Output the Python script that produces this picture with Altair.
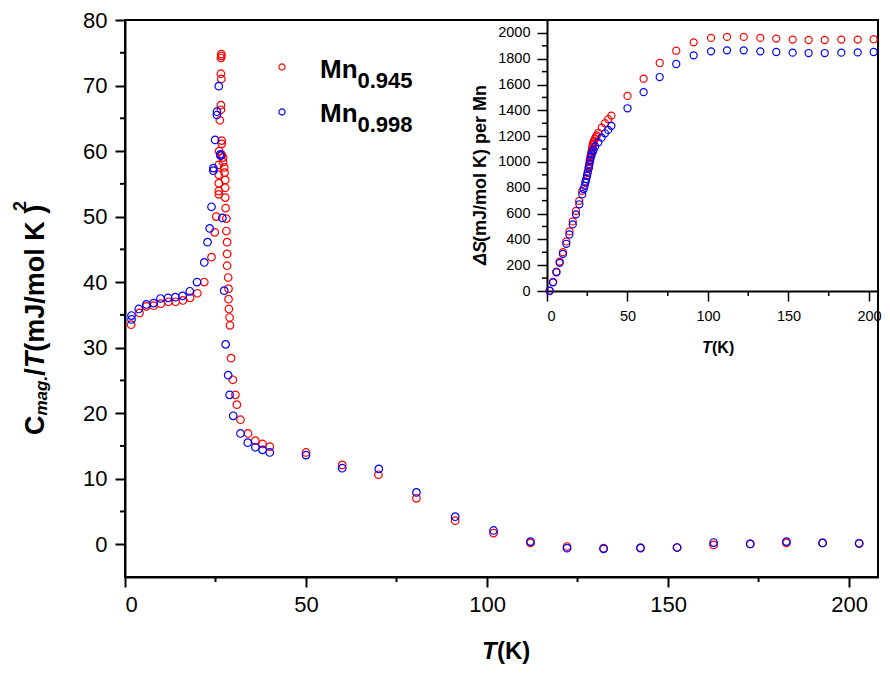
import altair as alt
import pandas as pd

# ---------------- data ----------------
series_names = ["Mn0.945", "Mn0.998"]
series_colors = ["#ff0000", "#0000ff"]

main_T_945 = [1.7, 4.0, 5.9, 7.9, 9.9, 12.0, 14.0, 16.0, 18.0, 20.0, 21.9, 23.9, 24.8, 25.2,
              25.9, 25.9, 25.9, 25.9, 25.9, 26.0, 26.2, 26.5, 26.5, 26.5, 26.6, 26.5, 26.6, 26.6,
              26.7, 26.7, 26.8, 27.1, 27.1, 27.4, 27.5, 27.7, 27.7, 27.7, 27.8, 28.0, 28.0, 28.2,
              28.2, 28.2, 28.5, 28.6, 28.6, 28.7, 28.9, 29.0, 29.3, 29.8, 30.5, 30.9, 31.9, 34.0,
              36.0, 38.0, 40.0, 50.0, 60.0, 70.0, 80.5, 91.2, 101.8, 112.0, 122.1, 132.2, 142.4,
              152.5, 162.6, 172.7, 182.7, 192.7, 202.8]
main_C_945 = [33.5, 35.3, 36.3, 36.4, 36.7, 37.0, 37.0, 37.2, 37.6, 38.3, 40.0, 43.8, 47.6, 50.0,
              53.4, 53.9, 55.1, 56.4, 57.9, 60.0, 64.7, 67.0, 66.3, 71.8, 71.0, 74.2, 74.5, 74.8,
              61.6, 61.1, 59.4, 59.0, 58.3, 57.5, 56.7, 55.6, 54.4, 52.9, 51.3, 49.7, 47.8, 46.1,
              44.3, 42.5, 40.7, 39.0, 37.4, 35.9, 34.6, 33.4, 28.4, 25.1, 22.8, 21.3, 19.0, 16.9,
              15.8, 15.3, 14.9, 14.0, 12.1, 10.6, 7.0, 3.6, 1.7, 0.2, -0.35, -0.6, -0.5,
              -0.5, -0.1, 0.05, 0.2, 0.2, 0.1]

main_T_998 = [1.8, 1.8, 3.8, 5.9, 7.9, 9.8, 11.9, 13.9, 15.9, 17.9, 19.9, 21.9, 22.8, 23.4, 23.9,
              24.4, 24.4, 24.9, 25.4, 25.4, 25.9, 26.3, 26.4, 26.9, 27.4, 27.8, 28.5, 28.9, 29.9,
              31.9, 33.9, 36.0, 38.0, 40.0, 50.0, 60.0, 70.1, 80.5, 91.2, 101.8, 112.0, 122.1,
              132.2, 142.4, 152.5, 162.6, 172.7, 182.7, 192.7, 202.8]
main_C_998 = [34.9, 34.3, 35.9, 36.6, 36.8, 37.5, 37.6, 37.7, 37.9, 38.6, 40.0, 43.0, 46.1, 48.2, 51.5,
              57.4, 57.0, 61.7, 66.0, 65.5, 69.9, 59.5, 59.3, 49.8, 38.7, 30.5, 25.8, 22.8, 19.6,
              16.9, 15.5, 14.8, 14.4, 14.0, 13.6, 11.6, 11.5, 7.9, 4.2, 2.1, 0.4, -0.6,
              -0.7, -0.6, -0.5, 0.26, 0.05, 0.4, 0.2, 0.15]

inset_T_945 = [1.7, 3.8, 5.9, 7.9, 9.9, 12.0, 14.0, 16.0, 18.0, 20.0, 21.9, 23.9, 24.8, 25.2, 25.9,
               26.0, 26.2, 26.5, 26.6, 26.8, 27.1, 27.4, 27.7, 28.0, 28.2, 28.5, 28.6, 28.9, 29.3,
               29.8, 30.5, 30.9, 31.9, 34.0, 36.0, 38.0, 40.0, 50.0, 60.0, 70.0, 80.3, 91.1,
               101.9, 111.8, 122.2, 132.5, 142.4, 152.6, 162.5, 172.5, 182.8, 193.0, 202.9]
inset_S_945 = [0, 70, 150, 228, 301, 384, 462, 539, 620, 698, 776, 850, 893, 915, 950,
               960, 975, 1000, 1015, 1030, 1048, 1066, 1083, 1105, 1118, 1135, 1142, 1155, 1165,
               1180, 1195, 1205, 1225, 1266, 1300, 1331, 1359, 1512, 1645, 1767, 1862, 1927,
               1961, 1969, 1969, 1961, 1956, 1948, 1945, 1945, 1948, 1948, 1951]

inset_T_998 = [1.7, 3.7, 5.8, 7.9, 9.9, 12.0, 13.9, 16.0, 18.0, 20.1, 21.9, 22.8, 23.4, 23.9, 24.4,
               24.9, 25.4, 25.9, 26.3, 26.9, 27.4, 27.8, 28.5, 28.9, 29.9, 31.9, 33.9, 36.0, 38.0,
               40.0, 50.0, 60.0, 70.0, 80.3, 91.1, 101.9, 111.8, 122.2, 132.5, 142.4, 152.6,
               162.5, 172.5, 182.8, 193.0, 202.9]
inset_S_998 = [2, 67, 145, 218, 288, 366, 438, 516, 594, 672, 750, 790, 815, 840, 868,
               895, 925, 955, 985, 1015, 1040, 1060, 1080, 1095, 1120, 1152, 1188, 1222, 1248,
               1280, 1416, 1541, 1658, 1759, 1826, 1857, 1865, 1865, 1857, 1852, 1847,
               1844, 1844, 1847, 1849, 1852]

main_x_major = [0, 50, 100, 150, 200]
main_x_minor = [25, 75, 125, 175]
main_y_major = [0, 10, 20, 30, 40, 50, 60, 70, 80]
main_y_minor = [5, 15, 25, 35, 45, 55, 65, 75]
inset_x_major = [0, 50, 100, 150, 200]
inset_x_minor = [25, 75, 125, 175]
inset_y_major = [0, 200, 400, 600, 800, 1000, 1200, 1400, 1600, 1800, 2000]
inset_y_minor = [100, 300, 500, 700, 900, 1100, 1300, 1500, 1700, 1900]

# ---------------- tables ----------------
main_df = pd.concat([
    pd.DataFrame({"T": main_T_945, "C": main_C_945, "s": series_names[0]}),
    pd.DataFrame({"T": main_T_998, "C": main_C_998, "s": series_names[1]}),
], ignore_index=True)
inset_df = pd.concat([
    pd.DataFrame({"T": inset_T_945, "S": inset_S_945, "s": series_names[0]}),
    pd.DataFrame({"T": inset_T_998, "S": inset_S_998, "s": series_names[1]}),
], ignore_index=True)

FONT = "Liberation Sans"
PAD_L = 117
W, H = 753, 557
IX0, IX1 = 422, 753     # inset x range (px inside plot)
IY0, IY1 = 271, 0       # inset y range
TX = 3                  # keep the outer y title at its place

color = alt.Color("s:N", scale=alt.Scale(domain=series_names, range=series_colors), legend=None)

mx_scale = alt.Scale(domain=[0, 208.0], nice=False, zero=False)
my_scale = alt.Scale(domain=[-5, 80], nice=False, zero=False)
ix_scale = alt.Scale(domain=[0, 205.6], range=[IX0, IX1], nice=False, zero=False)
iy_scale = alt.Scale(domain=[0, 2100], range=[IY0, IY1], nice=False, zero=False)


def ax(values, fs, pad, tw, **kw):
    return alt.Axis(values=values, ticks=True, tickSize=10, tickWidth=tw, domainWidth=2,
                    labelFontSize=fs, labelPadding=pad, title=None, grid=False, labelFont=FONT,
                    labelColor="black", domainColor="black", tickColor="black", format="d", **kw)


mx_axis = ax(main_x_major, 22, 7, 2, orient="bottom")
my_axis = ax(main_y_major, 22, 8, 2, orient="left")
ix_axis = ax(inset_x_major, 14.5, 8, 1.5, orient="bottom", offset=IY0 - H)
iy_axis = ax(inset_y_major, 14.5, 7, 1.5, orient="left", offset=-IX0)

main_pts = alt.Chart(main_df).mark_point(shape="circle", filled=False, size=57, strokeWidth=1.2, opacity=1).encode(
    x=alt.X("T:Q", scale=mx_scale, axis=mx_axis),
    y=alt.Y("C:Q", scale=my_scale, axis=my_axis),
    color=color,
)
main_xminor = alt.Chart(pd.DataFrame({"v": main_x_minor})).mark_rule(color="black", strokeWidth=2).encode(
    x=alt.X("v:Q", scale=mx_scale, axis=mx_axis), y=alt.value(H), y2=alt.value(H + 5))
main_yminor = alt.Chart(pd.DataFrame({"v": main_y_minor})).mark_rule(color="black", strokeWidth=2).encode(
    y=alt.Y("v:Q", scale=my_scale, axis=my_axis), x=alt.value(0), x2=alt.value(-5))
main_layer = alt.layer(main_pts, main_xminor, main_yminor)

inset_pts = alt.Chart(inset_df).mark_point(shape="circle", filled=False, size=50, strokeWidth=1.2, opacity=1).encode(
    x=alt.X("T:Q", scale=ix_scale, axis=ix_axis),
    y=alt.Y("S:Q", scale=iy_scale, axis=iy_axis),
    color=color,
)
inset_xminor = alt.Chart(pd.DataFrame({"v": inset_x_minor})).mark_rule(color="black", strokeWidth=1.5).encode(
    x=alt.X("v:Q", scale=ix_scale, axis=ix_axis), y=alt.value(IY0), y2=alt.value(IY0 + 5))
inset_yminor = alt.Chart(pd.DataFrame({"v": inset_y_minor})).mark_rule(color="black", strokeWidth=1.5).encode(
    y=alt.Y("v:Q", scale=iy_scale, axis=iy_axis), x=alt.value(IX0), x2=alt.value(IX0 - 5))
inset_layer = alt.layer(inset_pts, inset_xminor, inset_yminor)

one = alt.Data(values=[{}])


def txt(text, x, y, size, style="normal", weight="bold", angle=0):
    return alt.Chart(one).mark_text(
        text=text, font=FONT, fontSize=size, fontWeight=weight, fontStyle=style,
        angle=angle, align="left", baseline="alphabetic", color="black"
    ).encode(x=alt.value(x), y=alt.value(y))


def dot(x, y, c):
    return alt.Chart(one).mark_point(shape="circle", filled=False, size=38, strokeWidth=1.2,
                                     color=c, opacity=1).encode(x=alt.value(x), y=alt.value(y))


texts = [
    # main y title (rotated, reads upward)
    txt("C", -84 + TX, 415, 27, angle=270),
    txt("mag.", -81 + TX, 395.5, 17, style="italic", angle=270),
    txt("/", -84 + TX, 355.8, 27, angle=270),
    txt("T", -84 + TX, 348.3, 27, style="italic", angle=270),
    txt(" (mJ/mol K", -84 + TX, 331.8, 27, angle=270),
    txt(")", -84 + TX, 193.8, 27, angle=270),
    txt("2", -102 + TX, 191, 18, angle=270),
    # main x title
    txt("T", 357, 639, 24, style="italic"),
    txt("(K)", 372, 639, 24),
    # legend
    dot(157, 47, series_colors[0]),
    dot(157, 92, series_colors[1]),
    txt("Mn", 195, 57.5, 26),
    txt("0.945", 232.5, 67.5, 22),
    txt("Mn", 195, 102, 26),
    txt("0.998", 232.5, 112, 22),
    # inset titles
    txt("T", 577, 333, 16, style="italic"),
    txt("(K)", 587, 333, 16),
    txt("ΔS", 361, 245, 18, style="italic", angle=270),
    txt("(mJ/mol K) per Mn", 361, 245 - 23, 18, angle=270),
]

chart = alt.layer(main_layer, inset_layer, *texts).resolve_scale(
    x="independent", y="independent"
).properties(
    width=W, height=H,
    autosize=alt.AutoSizeParams(type="none"),
    padding={"left": PAD_L, "top": 12, "right": 874 - PAD_L - W, "bottom": 88},
    background="white",
).configure_view(stroke="black", strokeWidth=2)

chart.save("out.html", embed_options={"renderer": "svg", "actions": False})
